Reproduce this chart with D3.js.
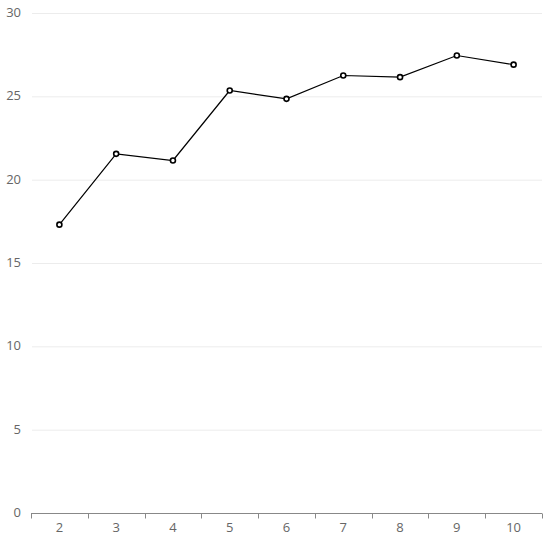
<!DOCTYPE html>
<html><head><meta charset="utf-8">
<script src="https://cdn.jsdelivr.net/npm/d3@7"></script>
<style>body{margin:0;background:#fff}svg{display:block}text{font-family:"Open Sans",sans-serif}</style>
</head><body><svg id="c" width="550" height="539"></svg>
<script>
const categories = ["2","3","4","5","6","7","8","9","10"];
const values = [17.3, 21.55, 21.15, 25.35, 24.85, 26.25, 26.15, 27.45, 26.9];
const yTicks = [0,5,10,15,20,25,30];

const svg = d3.select("#c");
const m = {l:31, r:8, t:13, b:26};
const W = 550, H = 539;
const x = d3.scaleBand().domain(categories).range([m.l, W-m.r]);
const y = d3.scaleLinear().domain([0,30]).range([H-m.b, m.t]);

svg.append("g").selectAll("line").data(yTicks.filter(d=>d>0)).join("line")
  .attr("x1", m.l+1).attr("x2", W-m.r).attr("y1", d=>y(d)+0.5).attr("y2", d=>y(d)+0.5)
  .attr("stroke","#ececec").attr("stroke-width",1);

svg.append("g").selectAll("text").data(yTicks).join("text")
  .attr("x", 21).attr("y", d=>y(d)-0.5).attr("dy","0.35em").attr("text-anchor","end")
  .attr("fill","#666").attr("font-size",13).text(d=>d);

const xa = svg.append("g").attr("transform",`translate(0,${H-m.b+0.5})`);
xa.append("line").attr("x1", m.l).attr("x2", W-m.r).attr("stroke","#888").attr("stroke-width",1);
const bounds = categories.map(c=>x(c)).concat([x(categories[categories.length-1])+x.bandwidth()]);
xa.selectAll("line.t").data(bounds).join("line").attr("class","t")
  .attr("x1",d=>Math.round(d)+0.5).attr("x2",d=>Math.round(d)+0.5).attr("y1",0).attr("y2",5)
  .attr("stroke","#888");
xa.selectAll("text").data(categories).join("text")
  .attr("x", d=>x(d)+x.bandwidth()/2).attr("y", 18).attr("text-anchor","middle")
  .attr("fill","#666").attr("font-size",13).text(d=>d);

const pts = categories.map((c,i)=>[x(c)+x.bandwidth()/2, y(values[i])]);
svg.append("path").attr("d", d3.line()(pts)).attr("fill","none").attr("stroke","#000").attr("stroke-width",1.2);
svg.append("g").selectAll("circle").data(pts).join("circle")
  .attr("cx",d=>d[0]).attr("cy",d=>d[1]).attr("r",2.5)
  .attr("fill","#fff").attr("stroke","#000").attr("stroke-width",1.6);
</script></body></html>
